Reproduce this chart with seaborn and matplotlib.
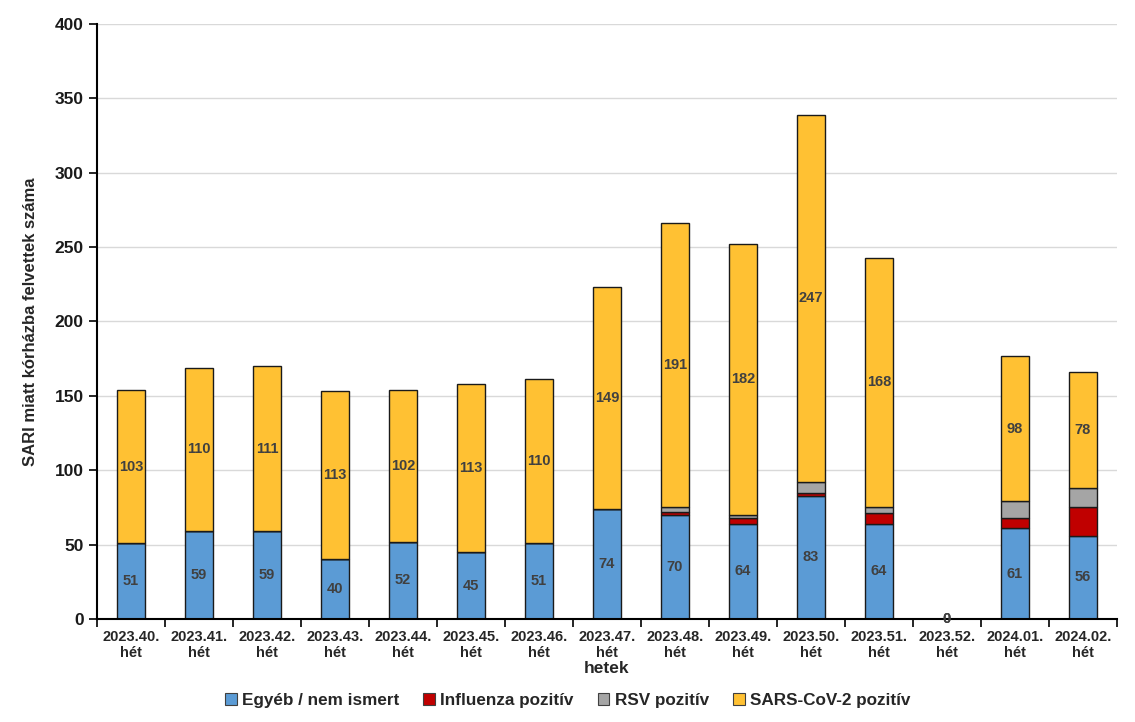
import matplotlib
matplotlib.use("Agg")
import matplotlib.pyplot as plt
import seaborn as sns
import numpy as np
import pandas as pd
from matplotlib.patches import Patch

weeks = ["2023.40.\nhét", "2023.41.\nhét", "2023.42.\nhét", "2023.43.\nhét", "2023.44.\nhét",
         "2023.45.\nhét", "2023.46.\nhét", "2023.47.\nhét", "2023.48.\nhét", "2023.49.\nhét",
         "2023.50.\nhét", "2023.51.\nhét", "2023.52.\nhét", "2024.01.\nhét", "2024.02.\nhét"]
egyeb = [51, 59, 59, 40, 52, 45, 51, 74, 70, 64, 83, 64, 0, 61, 56]
influenza = [0, 0, 0, 0, 0, 0, 0, 0, 2, 4, 2, 7, 0, 7, 19]
rsv = [0, 0, 0, 0, 0, 0, 0, 0, 3, 2, 7, 4, 0, 11, 13]
sars = [103, 110, 111, 113, 102, 113, 110, 149, 191, 182, 247, 168, 0, 98, 78]

series_names = ["Egyéb / nem ismert", "Influenza pozitív", "RSV pozitív", "SARS-CoV-2 pozitív"]
colors = ["#5B9BD5", "#C00000", "#A5A5A5", "#FFC133"]

sns.set_style("white")
plt.rcParams['font.family'] = ['Liberation Sans', 'DejaVu Sans']

fig = plt.figure(figsize=(11.35, 7.22), dpi=100)
ax = fig.add_axes([0.0855, 0.1427, 0.8985, 0.8241])

data = [egyeb, influenza, rsv, sars]
bottom = np.zeros(len(weeks))
for name, vals, col in zip(series_names, data, colors):
    df = pd.DataFrame({"week": weeks, "val": vals})
    sns.barplot(data=df, x="week", y="val", color=col, bottom=bottom, width=0.41,
                edgecolor="#1a1a1a", linewidth=1.0, ax=ax, saturation=1, errorbar=None)
    if name in ("Egyéb / nem ismert", "SARS-CoV-2 pozitív"):
        for i, v in enumerate(vals):
            ax.text(i, bottom[i] + v / 2, str(v), ha="center", va="center",
                    fontsize=10.5, fontweight="bold", color="#404040")
    bottom = bottom + np.array(vals)

ax.set_xlim(-0.5, len(weeks) - 0.5)
ax.set_ylim(0, 400)
ax.set_yticks(range(0, 401, 50))
ax.yaxis.grid(True, color="#D9D9D9", linewidth=1)
ax.set_axisbelow(True)
for s in ["top", "right"]:
    ax.spines[s].set_visible(False)
for s in ["left", "bottom"]:
    ax.spines[s].set_color("black")
    ax.spines[s].set_linewidth(1.5)

ax.tick_params(axis="y", which="major", direction="out", length=6, width=1.2, color="black",
               labelsize=12.5, left=True)
for lbl in ax.get_yticklabels():
    lbl.set_fontweight("bold")
    lbl.set_color("#1a1a1a")

ax.set_xticks(range(len(weeks)))
ax.set_xticklabels(weeks, fontsize=10.5, fontweight="bold", linespacing=1.15)
ax.tick_params(axis="x", which="major", length=0, pad=8)
ax.set_xticks(np.arange(-0.5, len(weeks), 1.0), minor=True)
ax.tick_params(axis="x", which="minor", direction="out", length=6, width=1.2, color="black", bottom=True)

ax.set_xlabel("hetek", fontsize=12.5, fontweight="bold", labelpad=1)
ax.set_ylabel("SARI miatt kórházba felvettek száma", fontsize=12, fontweight="bold", labelpad=12)

handles = [Patch(facecolor=c, edgecolor="#404040", linewidth=0.8, label=n) for n, c in zip(series_names, colors)]
fig.legend(handles=handles, loc="center", bbox_to_anchor=(0.5, 0.03), ncol=4, frameon=False,
           prop={"weight": "bold", "size": 12.3}, handlelength=0.7, handleheight=0.7,
           handletextpad=0.3, columnspacing=1.4)

fig.savefig("out.png", dpi=100)
